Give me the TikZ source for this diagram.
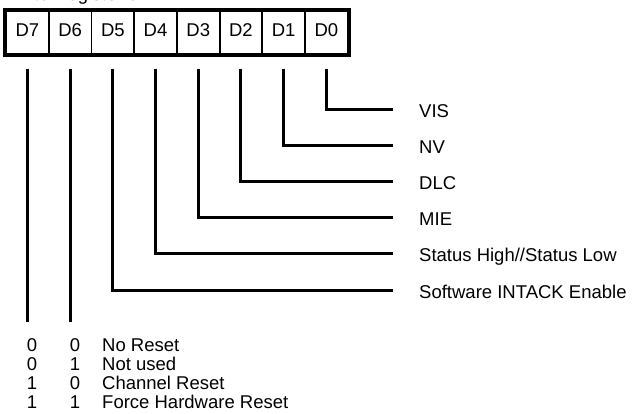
\documentclass[tikz,border=0pt]{standalone}
\usepackage{fontspec}
\setmainfont{Liberation Sans}
\begin{document}
\begin{tikzpicture}[x=1pt,y=-1pt,
  font=\fontsize{18.5}{18.5}\selectfont,
  cellbox/.style={draw, line width=1.8pt, minimum width=42.7pt, minimum height=43pt,
    inner sep=0pt, text height=13pt, text depth=4.5pt},
  outerbox/.style={draw, line width=4pt},
  bitline/.style={line width=3pt},
  lbl/.style={anchor=base west, inner sep=0pt},
  digit/.style={anchor=base, inner sep=0pt}]
\useasboundingbox (0,0) rectangle (634,413);
\fill[white] (0,0) rectangle (634,413);
\clip (0,0) rectangle (634,413);

% clipped title
\node[lbl] (title) at (6,0.6) {Write Register 9};

% register cells
\node[cellbox] (c7) at (27.45,32.7) {D7};
\node[cellbox] (c6) at (70.15,32.7) {D6};
\node[cellbox] (c5) at (112.85,32.7) {D5};
\node[cellbox] (c4) at (155.55,32.7) {D4};
\node[cellbox] (c3) at (198.25,32.7) {D3};
\node[cellbox] (c2) at (240.95,32.7) {D2};
\node[cellbox] (c1) at (283.65,32.7) {D1};
\node[cellbox] (c0) at (326.35,32.7) {D0};
\draw[outerbox] (c7.north west) rectangle (c0.south east);

% line ends
\coordinate (e0) at (392.7,109);
\coordinate (e1) at (392.7,145);
\coordinate (e2) at (392.7,181);
\coordinate (e3) at (392.7,217);
\coordinate (e4) at (392.7,253);
\coordinate (e5) at (392.7,290);
\coordinate (b7) at (27.45,322);
\coordinate (b6) at (70.15,322);

% labels
\node[lbl] (l0) at (419,117) {VIS};
\node[lbl] (l1) at (419,153) {NV};
\node[lbl] (l2) at (419,189) {DLC};
\node[lbl] (l3) at (419,225) {MIE};
\node[lbl] (l4) at (419,261) {Status High//Status Low};
\node[lbl] (l5) at (419,298) {Software INTACK Enable};

% connectors
\draw[bitline] ([yshift=-13.5pt]c0.south) |- (e0);
\draw[bitline] ([yshift=-13.5pt]c1.south) |- (e1);
\draw[bitline] ([yshift=-13.5pt]c2.south) |- (e2);
\draw[bitline] ([yshift=-13.5pt]c3.south) |- (e3);
\draw[bitline] ([yshift=-13.5pt]c4.south) |- (e4);
\draw[bitline] ([yshift=-13.5pt]c5.south) |- (e5);
\draw[bitline] ([yshift=-13.5pt]c7.south) -- (b7);
\draw[bitline] ([yshift=-13.5pt]c6.south) -- (b6);

% reset table
\node[digit] (t1a) at (32,351) {0};
\node[digit] (t1b) at (75,351) {0};
\node[lbl]   (t1c) at (102,351) {No Reset};
\node[digit] (t2a) at (32,370) {0};
\node[digit] (t2b) at (75,370) {1};
\node[lbl]   (t2c) at (102,370) {Not used};
\node[digit] (t3a) at (32,389) {1};
\node[digit] (t3b) at (75,389) {0};
\node[lbl]   (t3c) at (102,389) {Channel Reset};
\node[digit] (t4a) at (32,408) {1};
\node[digit] (t4b) at (75,408) {1};
\node[lbl]   (t4c) at (102,408) {Force Hardware Reset};
\end{tikzpicture}
\end{document}
